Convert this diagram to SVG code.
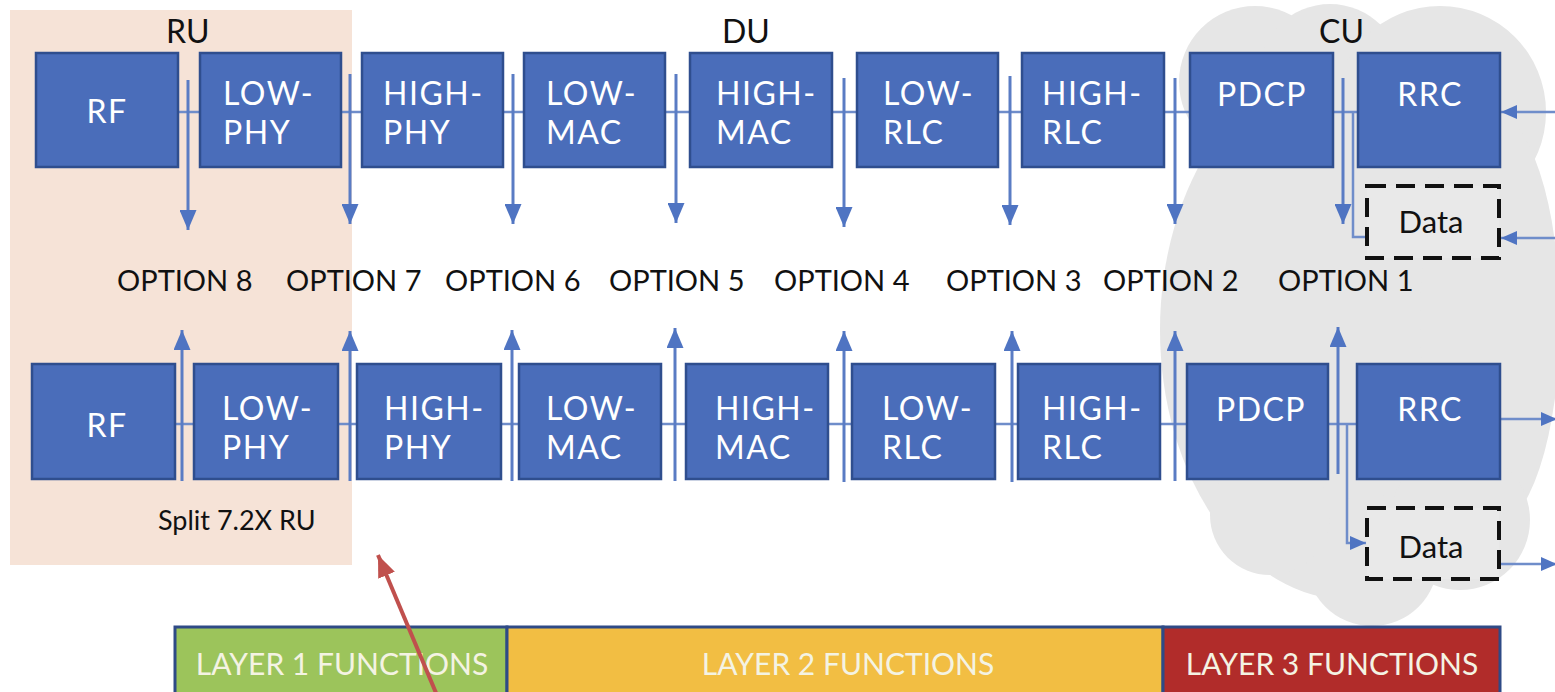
<svg xmlns="http://www.w3.org/2000/svg" width="1555" height="692" viewBox="0 0 1555 692">
  <style>
    .box { fill: #4a6dba; stroke: #2f4e8e; stroke-width: 2.5; }
    .bt { font-family: Lato, "Liberation Sans", sans-serif; font-size: 32px; letter-spacing: 1.5px; fill: #ffffff; }
    .hd { font-family: Lato, "Liberation Sans", sans-serif; font-size: 32px; fill: #111111; }
    .opt { font-family: Lato, "Liberation Sans", sans-serif; font-size: 29px; fill: #111111; }
    .lbl { font-family: Lato, "Liberation Sans", sans-serif; font-size: 27px; fill: #111111; }
    .data { fill: #e9e9e9; stroke: #111111; stroke-width: 4; stroke-dasharray: 19 10; }
    .dt { font-family: Lato, "Liberation Sans", sans-serif; font-size: 31px; fill: #111111; }
    .link { stroke: #6f8dca; stroke-width: 2.5; fill: none; }
    .arr { stroke: #5a7cc4; stroke-width: 3; fill: none; }
    .lay { stroke: #2e4a86; stroke-width: 3; }
    .lt { font-family: Lato, "Liberation Sans", sans-serif; font-size: 30px; fill: #f4f3e3; }
  </style>
  <defs>
    <marker id="ah" viewBox="0 0 20 17" refX="20" refY="8.5" markerWidth="20" markerHeight="17" markerUnits="userSpaceOnUse" orient="auto">
      <path d="M0,0 L20,8.5 L0,17 Z" fill="#4f74c2"/>
    </marker>
    <marker id="ahs" viewBox="0 0 16 14" refX="16" refY="7" markerWidth="16" markerHeight="14" markerUnits="userSpaceOnUse" orient="auto">
      <path d="M0,0 L16,7 L0,14 Z" fill="#4f74c2"/>
    </marker>
    <marker id="ahr" viewBox="0 0 22 18" refX="22" refY="9" markerWidth="22" markerHeight="18" markerUnits="userSpaceOnUse" orient="auto">
      <path d="M0,0 L22,9 L0,18 Z" fill="#c0504d"/>
    </marker>
  </defs>

  <rect width="1555" height="692" fill="#ffffff"/>

  <!-- RU area -->
  <rect id="ru-area" x="10" y="10" width="342" height="555" fill="#f6e3d7"/>

  <!-- CU cloud -->
  <g id="cu-cloud" fill="#e6e6e6">
    <circle cx="1255" cy="82" r="76"/>
    <circle cx="1330" cy="76" r="72"/>
    <circle cx="1440" cy="112" r="106"/>
    <ellipse cx="1350" cy="330" rx="190" ry="270"/>
    <ellipse cx="1490" cy="320" rx="70" ry="210"/>
    <circle cx="1372" cy="560" r="66"/>
    <circle cx="1270" cy="515" r="60"/>
    <circle cx="1460" cy="520" r="70"/>
  </g>

  <!-- section headings -->
  <text class="hd" x="166" y="43">RU</text>
  <text class="hd" x="722" y="43">DU</text>
  <text class="hd" x="1319" y="43">CU</text>

  <!-- connectors -->
  <g id="connectors">
    <!-- top row links -->
    <path class="link" d="M178,112 H200 M341,112 H362 M503,112 H524 M665,112 H690 M832,112 H857 M998,112 H1022 M1164,112 H1190 M1333,112 H1358"/>
    <!-- bottom row links -->
    <path class="link" d="M175,424 H194 M338,424 H357 M501,424 H519 M661,424 H686 M828,424 H852 M995,424 H1018 M1160,424 H1187 M1328,424 H1357"/>
    <!-- downlink split arrows -->
    <line class="arr" x1="188" y1="80" x2="188" y2="230" marker-end="url(#ah)"/>
    <line class="arr" x1="350" y1="74" x2="350" y2="224" marker-end="url(#ah)"/>
    <line class="arr" x1="513" y1="74" x2="513" y2="224" marker-end="url(#ah)"/>
    <line class="arr" x1="676" y1="74" x2="676" y2="223" marker-end="url(#ah)"/>
    <line class="arr" x1="844" y1="78" x2="844" y2="227" marker-end="url(#ah)"/>
    <line class="arr" x1="1010" y1="76" x2="1010" y2="225" marker-end="url(#ah)"/>
    <line class="arr" x1="1175" y1="78" x2="1175" y2="224" marker-end="url(#ah)"/>
    <line class="arr" x1="1343" y1="78" x2="1343" y2="224" marker-end="url(#ah)"/>
    <path class="link" d="M1353,112 V237 H1367"/>
    <!-- uplink split arrows -->
    <line class="arr" x1="182" y1="481" x2="182" y2="330" marker-end="url(#ah)"/>
    <line class="arr" x1="350" y1="481" x2="350" y2="331" marker-end="url(#ah)"/>
    <line class="arr" x1="512" y1="481" x2="512" y2="330" marker-end="url(#ah)"/>
    <line class="arr" x1="675" y1="481" x2="675" y2="328" marker-end="url(#ah)"/>
    <line class="arr" x1="844" y1="482" x2="844" y2="331" marker-end="url(#ah)"/>
    <line class="arr" x1="1012" y1="482" x2="1012" y2="331" marker-end="url(#ah)"/>
    <line class="arr" x1="1175" y1="481" x2="1175" y2="331" marker-end="url(#ah)"/>
    <line class="arr" x1="1338" y1="474" x2="1338" y2="327" marker-end="url(#ah)"/>
    <path class="link" d="M1347,424 V543 H1366" marker-end="url(#ahs)"/>
    <!-- external arrows -->
    <line class="link" x1="1555" y1="112" x2="1501" y2="112" marker-end="url(#ahs)"/>
    <line class="link" x1="1555" y1="238" x2="1501" y2="238" marker-end="url(#ahs)"/>
    <line class="link" x1="1500" y1="419" x2="1557" y2="419" marker-end="url(#ahs)"/>
    <line class="link" x1="1500" y1="564" x2="1557" y2="564" marker-end="url(#ahs)"/>
  </g>

  <!-- downlink chain -->
  <g id="dl-rf"><rect class="box" x="36" y="53" width="142" height="114"/><text class="bt" x="107" y="123" text-anchor="middle">RF</text></g>
  <g id="dl-low-phy"><rect class="box" x="200" y="53" width="141" height="114"/><text class="bt" x="223" y="105">LOW-<tspan x="223" dy="39">PHY</tspan></text></g>
  <g id="dl-high-phy"><rect class="box" x="362" y="53" width="141" height="114"/><text class="bt" x="383" y="105">HIGH-<tspan x="383" dy="39">PHY</tspan></text></g>
  <g id="dl-low-mac"><rect class="box" x="524" y="53" width="141" height="114"/><text class="bt" x="546" y="105">LOW-<tspan x="546" dy="39">MAC</tspan></text></g>
  <g id="dl-high-mac"><rect class="box" x="690" y="53" width="142" height="114"/><text class="bt" x="716" y="105">HIGH-<tspan x="716" dy="39">MAC</tspan></text></g>
  <g id="dl-low-rlc"><rect class="box" x="857" y="53" width="141" height="114"/><text class="bt" x="883" y="105">LOW-<tspan x="883" dy="39">RLC</tspan></text></g>
  <g id="dl-high-rlc"><rect class="box" x="1022" y="53" width="142" height="114"/><text class="bt" x="1042" y="105">HIGH-<tspan x="1042" dy="39">RLC</tspan></text></g>
  <g id="dl-pdcp"><rect class="box" x="1190" y="53" width="143" height="114"/><text class="bt" x="1262" y="106" text-anchor="middle">PDCP</text></g>
  <g id="dl-rrc"><rect class="box" x="1358" y="53" width="142" height="114"/><text class="bt" x="1430" y="106" text-anchor="middle">RRC</text></g>
  <g id="dl-data"><rect class="data" x="1367" y="186" width="132" height="72"/><text class="dt" x="1431" y="233" text-anchor="middle">Data</text></g>

  <!-- split option labels -->
  <g id="options">
    <text class="opt" x="117" y="291">OPTION 8</text>
    <text class="opt" x="286" y="291">OPTION 7</text>
    <text class="opt" x="445" y="291">OPTION 6</text>
    <text class="opt" x="609" y="291">OPTION 5</text>
    <text class="opt" x="774" y="291">OPTION 4</text>
    <text class="opt" x="946" y="291">OPTION 3</text>
    <text class="opt" x="1103" y="291">OPTION 2</text>
    <text class="opt" x="1278" y="291">OPTION 1</text>
  </g>

  <!-- uplink chain -->
  <g id="ul-rf"><rect class="box" x="32" y="364" width="143" height="115"/><text class="bt" x="107" y="437" text-anchor="middle">RF</text></g>
  <g id="ul-low-phy"><rect class="box" x="194" y="364" width="144" height="115"/><text class="bt" x="222" y="420">LOW-<tspan x="222" dy="39">PHY</tspan></text></g>
  <g id="ul-high-phy"><rect class="box" x="357" y="364" width="144" height="115"/><text class="bt" x="384" y="420">HIGH-<tspan x="384" dy="39">PHY</tspan></text></g>
  <g id="ul-low-mac"><rect class="box" x="519" y="364" width="142" height="115"/><text class="bt" x="546" y="420">LOW-<tspan x="546" dy="39">MAC</tspan></text></g>
  <g id="ul-high-mac"><rect class="box" x="686" y="364" width="142" height="115"/><text class="bt" x="715" y="420">HIGH-<tspan x="715" dy="39">MAC</tspan></text></g>
  <g id="ul-low-rlc"><rect class="box" x="852" y="364" width="143" height="115"/><text class="bt" x="882" y="420">LOW-<tspan x="882" dy="39">RLC</tspan></text></g>
  <g id="ul-high-rlc"><rect class="box" x="1018" y="364" width="142" height="115"/><text class="bt" x="1042" y="420">HIGH-<tspan x="1042" dy="39">RLC</tspan></text></g>
  <g id="ul-pdcp"><rect class="box" x="1187" y="364" width="141" height="115"/><text class="bt" x="1261" y="421" text-anchor="middle">PDCP</text></g>
  <g id="ul-rrc"><rect class="box" x="1357" y="364" width="143" height="115"/><text class="bt" x="1430" y="421" text-anchor="middle">RRC</text></g>
  <g id="ul-data"><rect class="data" x="1367" y="508" width="132" height="71"/><text class="dt" x="1431" y="558" text-anchor="middle">Data</text></g>

  <text class="lbl" x="158" y="530">Split 7.2X RU</text>

  <!-- protocol layer bands -->
  <g id="layer1"><rect class="lay" x="175" y="627" width="332" height="80" fill="#9cc45b"/><text class="lt" x="342" y="675" text-anchor="middle">LAYER 1 FUNCTIONS</text></g>
  <g id="layer2"><rect class="lay" x="507" y="627" width="656" height="80" fill="#f2be43"/><text class="lt" x="848" y="675" text-anchor="middle">LAYER 2 FUNCTIONS</text></g>
  <g id="layer3"><rect class="lay" x="1163" y="627" width="337" height="80" fill="#b12c2a"/><text class="lt" x="1332" y="675" text-anchor="middle">LAYER 3 FUNCTIONS</text></g>

  <!-- pointer -->
  <line x1="439" y1="700" x2="378" y2="555" stroke="#c0504d" stroke-width="4" marker-end="url(#ahr)"/>
</svg>
